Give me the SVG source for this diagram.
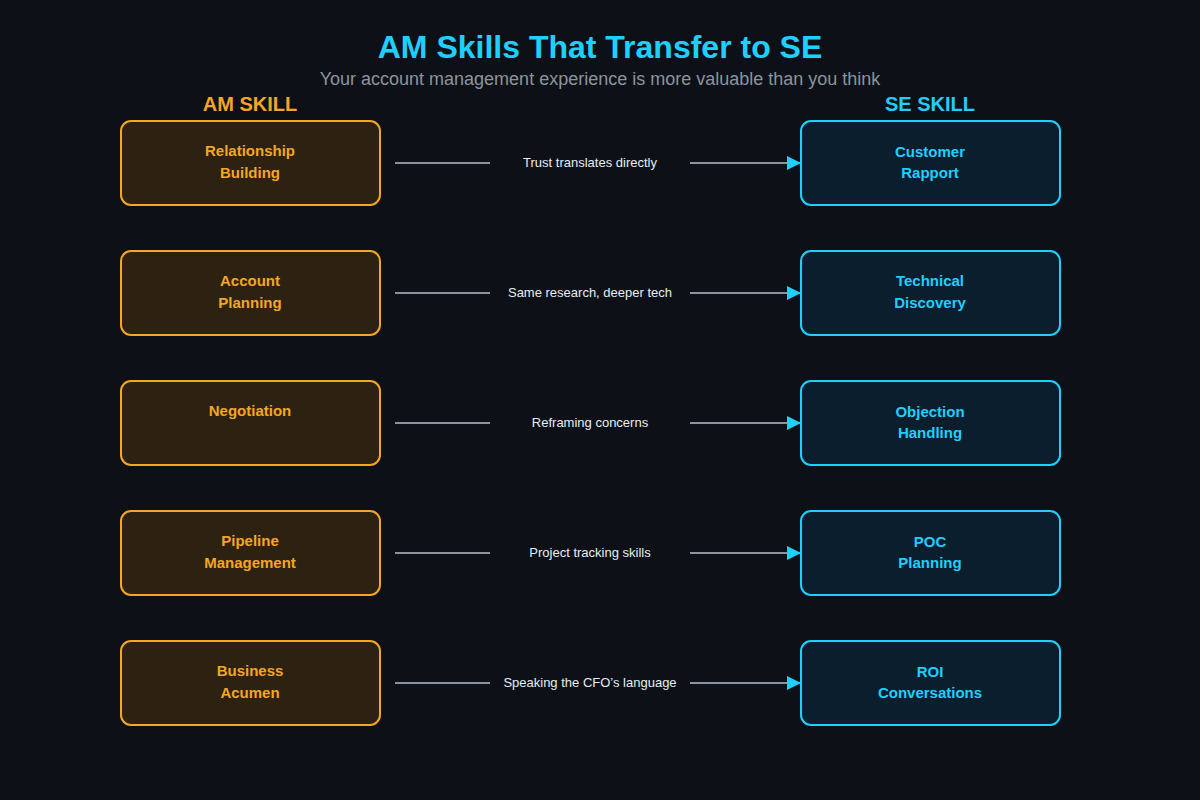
<svg xmlns="http://www.w3.org/2000/svg" width="1200" height="800" viewBox="0 0 1200 800">
<style>
.am rect{fill:#2d2211;stroke:#f5a623;stroke-width:2}
.se rect{fill:#0b1e2e;stroke:#1fcfff;stroke-width:2}
.am text{fill:#f5a623}
.se text{fill:#1fcfff}
text{font-family:"Liberation Sans",Arial,sans-serif}
.n{font-size:15px;font-weight:bold;text-anchor:middle}
.c line{stroke:#8b949e;stroke-width:2}
.l{fill:#e6edf3;font-size:13px;text-anchor:middle}
</style>
<defs><marker id="ah" markerWidth="14" markerHeight="14" refX="13" refY="7" orient="auto" markerUnits="userSpaceOnUse"><path d="M0,0 L14,7 L0,14 Z" fill="#1fcfff"/></marker></defs>
<rect width="1200" height="800" fill="#0d1117"/>
<text x="600" y="58" text-anchor="middle" font-size="32" font-weight="bold" fill="#1fcfff">AM Skills That Transfer to SE</text>
<text x="600" y="85" text-anchor="middle" font-size="18" fill="#8b949e">Your account management experience is more valuable than you think</text>
<text x="250" y="111" text-anchor="middle" font-size="20" font-weight="bold" fill="#f5a623">AM SKILL</text>
<text x="930" y="111" text-anchor="middle" font-size="20" font-weight="bold" fill="#1fcfff">SE SKILL</text>
<g id="am1" class="am"><rect x="121" y="121" width="259" height="84" rx="10"/><text class="n" x="250" y="156">Relationship</text><text class="n" x="250" y="178">Building</text></g>
<g id="am2" class="am"><rect x="121" y="251" width="259" height="84" rx="10"/><text class="n" x="250" y="286">Account</text><text class="n" x="250" y="308">Planning</text></g>
<g id="am3" class="am"><rect x="121" y="381" width="259" height="84" rx="10"/><text class="n" x="250" y="416">Negotiation</text></g>
<g id="am4" class="am"><rect x="121" y="511" width="259" height="84" rx="10"/><text class="n" x="250" y="546">Pipeline</text><text class="n" x="250" y="568">Management</text></g>
<g id="am5" class="am"><rect x="121" y="641" width="259" height="84" rx="10"/><text class="n" x="250" y="676">Business</text><text class="n" x="250" y="698">Acumen</text></g>
<g id="se1" class="se"><rect x="801" y="121" width="259" height="84" rx="10"/><text class="n" x="930" y="157">Customer</text><text class="n" x="930" y="178">Rapport</text></g>
<g id="se2" class="se"><rect x="801" y="251" width="259" height="84" rx="10"/><text class="n" x="930" y="286">Technical</text><text class="n" x="930" y="308">Discovery</text></g>
<g id="se3" class="se"><rect x="801" y="381" width="259" height="84" rx="10"/><text class="n" x="930" y="417">Objection</text><text class="n" x="930" y="438">Handling</text></g>
<g id="se4" class="se"><rect x="801" y="511" width="259" height="84" rx="10"/><text class="n" x="930" y="547">POC</text><text class="n" x="930" y="568">Planning</text></g>
<g id="se5" class="se"><rect x="801" y="641" width="259" height="84" rx="10"/><text class="n" x="930" y="677">ROI</text><text class="n" x="930" y="698">Conversations</text></g>
<g id="connectors" class="c">
<line x1="395" y1="163" x2="490" y2="163"/><line x1="690" y1="163" x2="800" y2="163" marker-end="url(#ah)"/><text class="l" x="590" y="167">Trust translates directly</text>
<line x1="395" y1="293" x2="490" y2="293"/><line x1="690" y1="293" x2="800" y2="293" marker-end="url(#ah)"/><text class="l" x="590" y="297">Same research, deeper tech</text>
<line x1="395" y1="423" x2="490" y2="423"/><line x1="690" y1="423" x2="800" y2="423" marker-end="url(#ah)"/><text class="l" x="590" y="427">Reframing concerns</text>
<line x1="395" y1="553" x2="490" y2="553"/><line x1="690" y1="553" x2="800" y2="553" marker-end="url(#ah)"/><text class="l" x="590" y="557">Project tracking skills</text>
<line x1="395" y1="683" x2="490" y2="683"/><line x1="690" y1="683" x2="800" y2="683" marker-end="url(#ah)"/><text class="l" x="590" y="687">Speaking the CFO’s language</text>
</g>
</svg>
